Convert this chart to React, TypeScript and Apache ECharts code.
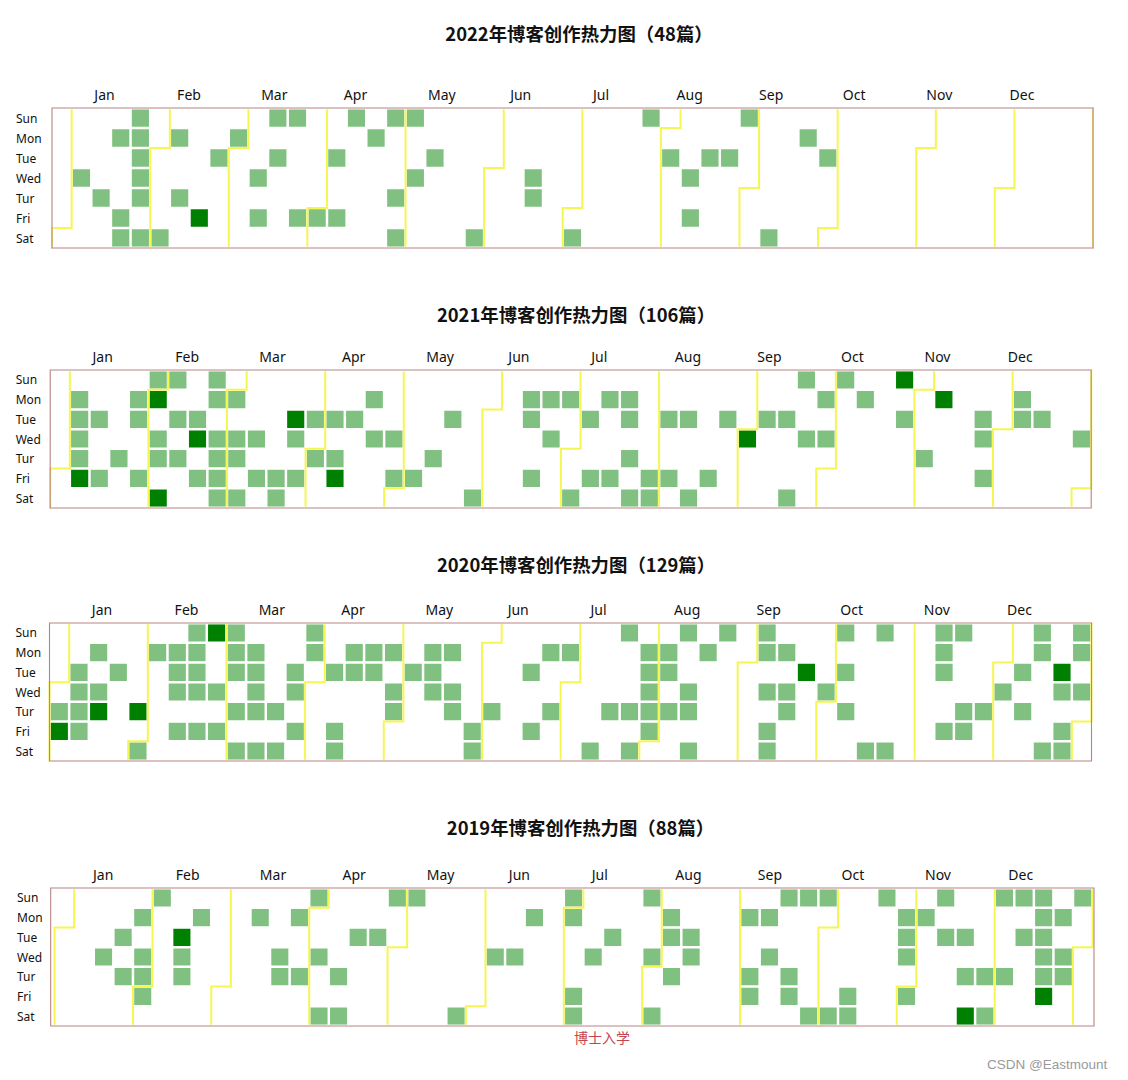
import React, { useEffect, useRef } from "react";
import * as echarts from "echarts";

// ---------- data ----------
const YEARS = ["2022", "2021", "2020", "2019"];
const TITLES = [
  "2022年博客创作热力图（48篇）",
  "2021年博客创作热力图（106篇）",
  "2020年博客创作热力图（129篇）",
  "2019年博客创作热力图（88篇）",
];
const DAY_NAMES = ["Sun", "Mon", "Tue", "Wed", "Tur", "Fri", "Sat"];
const MONTH_NAMES = ["Jan", "Feb", "Mar", "Apr", "May", "Jun", "Jul", "Aug", "Sep", "Oct", "Nov", "Dec"];
const NOTE_TEXT = "博士入学";
const WATERMARK = "CSDN @Eastmount";

// days with one post (MM-DD)
const ONE_2022 = [
  "01-05", "01-13", "01-17", "01-21", "01-22", "01-23", "01-24", "01-25", "01-26", "01-27", "01-29",
  "02-05", "02-07", "02-10", "02-22", "02-28",
  "03-09", "03-11", "03-13", "03-15", "03-20", "03-25",
  "04-01", "04-05", "04-08", "04-10", "04-18", "04-24", "04-28", "04-30",
  "05-01", "05-04", "05-10", "05-28",
  "06-15", "06-16",
  "07-02", "07-24",
  "08-02", "08-10", "08-12", "08-16", "08-23", "08-28",
  "09-10", "09-19", "09-27",
];
// days with two posts
const TWO_2022 = ["02-18"];

const ONE_2021 = [
  "01-04", "01-05", "01-06", "01-07", "01-12", "01-15", "01-21", "01-25", "01-26", "01-29", "01-31",
  "02-03", "02-04", "02-07", "02-09", "02-11", "02-16", "02-19", "02-21", "02-22", "02-24", "02-25", "02-26", "02-27",
  "03-01", "03-03", "03-04", "03-06", "03-10", "03-12", "03-19", "03-20", "03-24", "03-26", "03-30",
  "04-01", "04-06", "04-08", "04-13", "04-19", "04-21", "04-28", "04-30",
  "05-07", "05-13", "05-18", "05-29",
  "06-14", "06-15", "06-18", "06-21", "06-23", "06-28",
  "07-03", "07-06", "07-09", "07-12", "07-16", "07-19", "07-20", "07-22", "07-24", "07-30", "07-31",
  "08-03", "08-06", "08-10", "08-14", "08-20", "08-24",
  "09-07", "09-14", "09-18", "09-19", "09-22", "09-27", "09-29",
  "10-03", "10-11", "10-26",
  "11-04", "11-23", "11-24", "11-26",
  "12-06", "12-07", "12-14", "12-29",
];
const TWO_2021 = ["01-08", "02-01", "02-06", "02-17", "03-23", "04-09", "09-01", "10-24", "11-08"];

const ONE_2020 = [
  "01-02", "01-07", "01-08", "01-09", "01-10", "01-13", "01-15", "01-21",
  "02-01", "02-03", "02-10", "02-11", "02-12", "02-14", "02-16", "02-17", "02-18", "02-19", "02-21", "02-26", "02-28",
  "03-01", "03-02", "03-03", "03-05", "03-07", "03-09", "03-10", "03-11", "03-12", "03-14", "03-19", "03-21", "03-24", "03-25", "03-27", "03-29", "03-30",
  "04-07", "04-10", "04-11", "04-13", "04-14", "04-20", "04-21", "04-27", "04-29", "04-30",
  "05-05", "05-11", "05-12", "05-13", "05-18", "05-20", "05-21", "05-29", "05-30",
  "06-04", "06-16", "06-19", "06-22", "06-25", "06-29",
  "07-11", "07-16", "07-19", "07-23", "07-25", "07-27", "07-28", "07-29", "07-30", "07-31",
  "08-03", "08-04", "08-06", "08-09", "08-12", "08-13", "08-15", "08-17", "08-23",
  "09-06", "09-07", "09-09", "09-11", "09-12", "09-14", "09-16", "09-17", "09-30",
  "10-04", "10-06", "10-08", "10-17", "10-18", "10-24",
  "11-08", "11-09", "11-10", "11-13", "11-15", "11-19", "11-20", "11-26",
  "12-02", "12-08", "12-10", "12-13", "12-14", "12-19", "12-23", "12-25", "12-26", "12-27", "12-28", "12-30",
];
const TWO_2020 = ["01-03", "01-16", "01-30", "02-23", "09-22", "12-22"];

const ONE_2019 = [
  "01-16", "01-22", "01-24", "01-28", "01-30", "01-31",
  "02-01", "02-03", "02-13", "02-14", "02-18",
  "03-11", "03-20", "03-21", "03-25", "03-28", "03-31",
  "04-03", "04-06", "04-11", "04-13", "04-16", "04-23", "04-28",
  "05-05", "05-25",
  "06-05", "06-12", "06-17", "06-30",
  "07-01", "07-05", "07-06", "07-10", "07-16", "07-28", "07-31",
  "08-03", "08-05", "08-06", "08-08", "08-13", "08-14",
  "09-02", "09-05", "09-06", "09-09", "09-11", "09-15", "09-19", "09-20", "09-22", "09-28", "09-29",
  "10-05", "10-11", "10-12", "10-20", "10-28", "10-29", "10-30",
  "11-01", "11-04", "11-10", "11-12", "11-19", "11-21", "11-28", "11-30",
  "12-01", "12-05", "12-08", "12-10", "12-15", "12-16", "12-17", "12-18", "12-19", "12-23", "12-25", "12-26", "12-29",
];
const TWO_2019 = ["02-12", "11-23", "12-20"];

const ONE_POST = [ONE_2022, ONE_2021, ONE_2020, ONE_2019];
const TWO_POSTS = [TWO_2022, TWO_2021, TWO_2020, TWO_2019];

// ---------- layout (chart px) ----------
const LAYOUT = [
  { left: 44, top: 100, width: 1041, height: 140, box: [44, 100, 1041, 140], titleX: 571, titleTop: 15.8, dayMargin: 8 },
  { left: 42.2, top: 362, width: 1041, height: 138, box: [42.2, 362, 1041, 138], titleX: 568, titleTop: 296.8, dayMargin: 6.5 },
  { left: 41.5, top: 615, width: 1042, height: 138, box: [41.5, 615, 1042, 138], titleX: 568, titleTop: 546.8, dayMargin: 6 },
  { left: 46.6, top: 880, width: 1038, height: 138, box: [42.7, 880, 1043.3, 138], titleX: 572.5, titleTop: 809.8, dayMargin: 9.6 },
];
// month label centres, measured from the box's left edge
const MONTH_LABEL_X = [52.5, 137, 222.3, 303.5, 389.9, 468.7, 549, 637.7, 719.2, 802.2, 887.3, 970];

const FONT = '"Noto Sans", "Open Sans", sans-serif';
const CJK = '"Noto Sans CJK SC", sans-serif';

function buildOption() {
  const calendars = YEARS.map((y, i) => {
    const L = LAYOUT[i];
    return {
      left: L.left,
      top: L.top,
      width: L.width,
      height: L.height,
      cellSize: ["auto", "auto"],
      range: y,
      orient: "horizontal",
      splitLine: { show: true, lineStyle: { color: "#f6f652", width: 2 } },
      itemStyle: { color: "#ffffff", borderColor: "#ffffff", borderWidth: 1 },
      yearLabel: { show: false },
      monthLabel: { show: false },
      dayLabel: {
        show: true,
        firstDay: 0,
        position: "start",
        margin: L.dayMargin,
        nameMap: DAY_NAMES.map((d) => `{d|${d}}`),
        fontSize: 12,
        color: "#111",
        fontFamily: FONT,
        rich: { d: { width: 28, align: "left", fontSize: 12, color: "#111", fontFamily: FONT } },
      },
    };
  });

  const series = YEARS.map((y, i) => ({
    type: "heatmap",
    coordinateSystem: "calendar",
    calendarIndex: i,
    itemStyle: { borderColor: "#ffffff", borderWidth: 1.5 },
    data: [
      ...ONE_POST[i].map((d) => [`${y}-${d}`, 1]),
      ...TWO_POSTS[i].map((d) => [`${y}-${d}`, 2]),
    ],
  }));

  const titles = YEARS.map((_, i) => ({
    text: TITLES[i],
    left: LAYOUT[i].titleX,
    top: LAYOUT[i].titleTop,
    textAlign: "center",
    padding: 0,
    textStyle: { fontSize: 18.4, fontWeight: "bold", color: "#111", fontFamily: CJK },
  }));

  const graphics: any[] = [];
  LAYOUT.forEach((L) => {
    const [bx, by, bw, bh] = L.box;
    // hide the calendar's yellow top/bottom edges under the frame
    [by, by + bh].forEach((yy) => {
      graphics.push({
        type: "line",
        silent: true,
        z: 9,
        shape: { x1: bx, y1: yy, x2: bx + bw, y2: yy },
        style: { stroke: "#ffffff", lineWidth: 2.4 },
      });
    });
    graphics.push({
      type: "rect",
      silent: true,
      z: 10,
      shape: { x: bx, y: by, width: bw, height: bh },
      style: { fill: "none", stroke: "#b98383", lineWidth: 1.1 },
    });
    MONTH_NAMES.forEach((m, k) => {
      graphics.push({
        type: "text",
        silent: true,
        z: 10,
        x: bx + MONTH_LABEL_X[k],
        y: L.top - 14,
        style: {
          text: m,
          fontSize: 14,
          fill: "#111",
          fontFamily: FONT,
          align: "center",
          verticalAlign: "middle",
        },
      });
    });
  });
  graphics.push({
    type: "text",
    silent: true,
    left: 566,
    top: 1022,
    style: { text: NOTE_TEXT, fontSize: 14, fill: "#c2454f", fontFamily: CJK },
  });
  graphics.push({
    type: "text",
    silent: true,
    left: 979,
    top: 1049,
    style: { text: WATERMARK, fontSize: 13.5, fill: "#9a9a9a", fontFamily: '"Liberation Sans", Arial, sans-serif' },
  });

  return {
    animation: false,
    backgroundColor: "#ffffff",
    title: titles,
    tooltip: { show: false },
    visualMap: {
      type: "piecewise",
      show: false,
      seriesIndex: [0, 1, 2, 3],
      pieces: [
        { gte: 0.5, lt: 1.5, color: "#80c080" },
        { gte: 1.5, lte: 100, color: "#008000" },
      ],
    },
    calendar: calendars,
    series,
    graphic: graphics,
  };
}

export default function App() {
  const ref = useRef<HTMLDivElement>(null);
  useEffect(() => {
    if (!ref.current) return;
    const chart = echarts.init(ref.current, undefined, { renderer: "svg" });
    chart.setOption(buildOption() as any);
    return () => chart.dispose();
  }, []);
  return <div ref={ref} style={{ width: 1112, height: 1064 }} />;
}
